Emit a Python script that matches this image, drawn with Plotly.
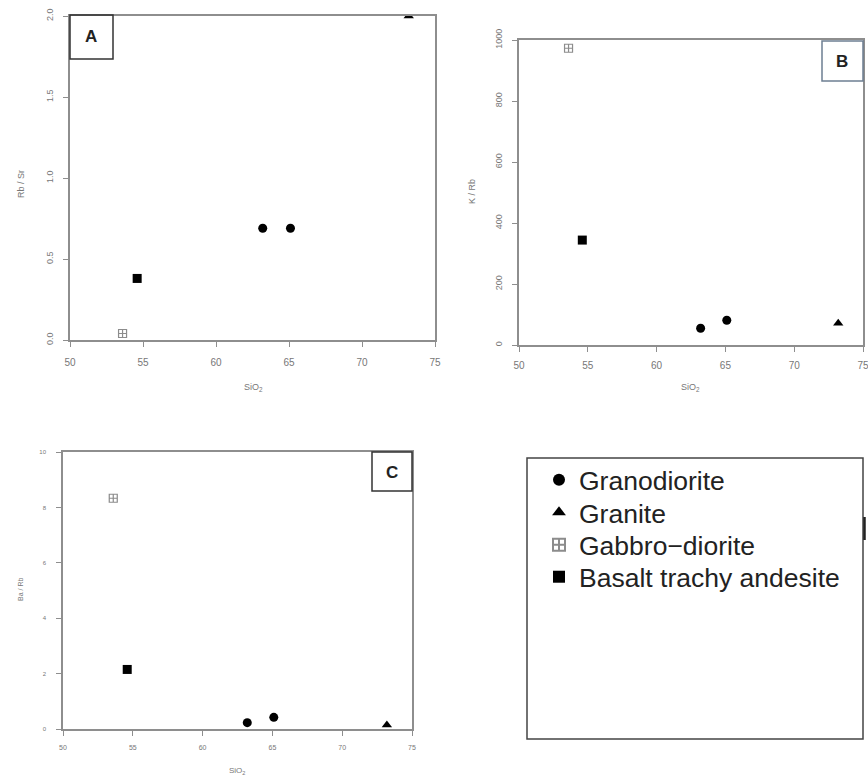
import plotly.graph_objects as go

# SiO2 (wt%) per rock group
sio2_granodiorite = [63.2, 65.1]
sio2_granite = [73.2]
sio2_gabbro = [53.6]
sio2_basalt = [54.6]

# Rb/Sr ratios
rbsr_granodiorite = [0.69, 0.69]
rbsr_granite = [2.0]
rbsr_gabbro = [0.04]
rbsr_basalt = [0.38]

# K/Rb ratios
krb_granodiorite = [55, 81]
krb_granite = [71]
krb_gabbro = [973]
krb_basalt = [344]

# Ba/Rb ratios
barb_granodiorite = [0.23, 0.42]
barb_granite = [0.14]
barb_gabbro = [8.33]
barb_basalt = [2.15]

group_names = ["Granodiorite", "Granite", "Gabbro\u2212diorite", "Basalt trachy andesite"]
x_ticks = [50, 55, 60, 65, 70, 75]

W, H = 868, 779


def px_x(p):
    return p / W


def px_y(p):
    return 1 - p / H


groups = [
    (group_names[0], sio2_granodiorite, rbsr_granodiorite, krb_granodiorite, barb_granodiorite,
     dict(symbol="circle", color="black", size=9)),
    (group_names[1], sio2_granite, rbsr_granite, krb_granite, barb_granite,
     dict(symbol="triangle-up", color="black", size=9)),
    (group_names[2], sio2_gabbro, rbsr_gabbro, krb_gabbro, barb_gabbro,
     dict(symbol="square-cross-open", color="#8c8c8c", size=8, line=dict(width=1.2))),
    (group_names[3], sio2_basalt, rbsr_basalt, krb_basalt, barb_basalt,
     dict(symbol="square", color="black", size=9)),
]

# one legend box per entry so each row sits at its own height
legend_ids = ["legend", "legend2", "legend3", "legend4"]
legend_rows = [480, 512.5, 545, 577]

fig = go.Figure()

panels = [("x", "y"), ("x2", "y2"), ("x3", "y3")]
for (name, sx, a, b, c, mk), lg in zip(groups, legend_ids):
    for (xa, ya), vals in zip(panels, (a, b, c)):
        fig.add_trace(go.Scatter(
            x=sx, y=vals, mode="markers", name=name, legend=lg,
            showlegend=(xa == "x"), marker=mk, xaxis=xa, yaxis=ya,
            cliponaxis=True,
        ))

axis_gray = "#8e8e8e"
text_gray = "#777777"

common_x = dict(range=[50, 75], tickvals=x_ticks, ticks="outside", ticklen=5,
                tickcolor=axis_gray, showline=True, linecolor=axis_gray, linewidth=1.5,
                mirror=True, showgrid=False, zeroline=False, automargin=False,
                ticklabeloverflow="allow",
                tickfont=dict(family="Liberation Sans", size=10, color=text_gray))
common_y = dict(ticks="outside", ticklen=5, tickcolor=axis_gray, showline=True,
                linecolor=axis_gray, linewidth=1.5, mirror=True, showgrid=False,
                zeroline=False, tickangle=-90, automargin=False, ticklabelstandoff=7,
                ticklabeloverflow="allow",
                tickfont=dict(family="Liberation Sans", size=9, color=text_gray))

legend_style = dict(xanchor="left", yanchor="middle", bgcolor="rgba(0,0,0,0)",
                    borderwidth=0, itemsizing="constant",
                    font=dict(family="Liberation Sans", size=26.5, color="#222222"))
legend_layout = {lg: dict(legend_style, x=px_x(539), y=px_y(row))
                 for lg, row in zip(legend_ids, legend_rows)}

fig.update_layout(
    width=W, height=H, margin=dict(l=0, r=0, t=0, b=0, autoexpand=False),
    paper_bgcolor="white", plot_bgcolor="white",
    xaxis=dict(common_x, domain=[px_x(70), px_x(435)], anchor="y", ticklabelstandoff=7),
    yaxis=dict(common_y, domain=[px_y(340), px_y(16)], anchor="x", range=[0, 2],
               tickvals=[0, 0.5, 1.0, 1.5, 2.0], ticktext=["0.0", "0.5", "1.0", "1.5", "2.0"]),
    xaxis2=dict(common_x, domain=[px_x(519), px_x(863)], anchor="y2", ticklabelstandoff=5),
    yaxis2=dict(common_y, domain=[px_y(345), px_y(40)], anchor="x2", range=[0, 1000],
                tickvals=[0, 200, 400, 600, 800, 1000]),
    xaxis3=dict(common_x, domain=[px_x(63), px_x(412)], anchor="y3", ticklabelstandoff=6,
                tickfont=dict(family="Liberation Sans", size=7, color=text_gray)),
    yaxis3=dict(common_y, domain=[px_y(729), px_y(452)], anchor="x3", range=[0, 10],
                tickvals=[0, 2, 4, 6, 8, 10], tickangle=0, ticklabelstandoff=9,
                tickfont=dict(family="Liberation Sans", size=6, color=text_gray)),
    showlegend=True,
    **legend_layout,
)

annotations = [
    # axis titles
    dict(x=px_x(21), y=px_y(184), text="Rb / Sr", textangle=-90, size=9),
    dict(x=px_x(472), y=px_y(192), text="K / Rb", textangle=-90, size=9),
    dict(x=px_x(20), y=px_y(590), text="Ba / Rb", textangle=-90, size=7),
    dict(x=px_x(253), y=px_y(387), text="SiO<sub>2</sub>", textangle=0, size=9),
    dict(x=px_x(690), y=px_y(387), text="SiO<sub>2</sub>", textangle=0, size=9),
    dict(x=px_x(237), y=px_y(771), text="SiO<sub>2</sub>", textangle=0, size=8),
]
for a in annotations:
    fig.add_annotation(x=a["x"], y=a["y"], text=a["text"], textangle=a["textangle"],
                       xref="paper", yref="paper", showarrow=False,
                       xanchor="center", yanchor="middle",
                       font=dict(family="Liberation Sans", size=a["size"], color=text_gray))

# panel letters
for letter, cx, cy in [("A", 91, 37), ("B", 842, 61), ("C", 392, 472)]:
    fig.add_annotation(x=px_x(cx), y=px_y(cy), xref="paper", yref="paper", text=f"<b>{letter}</b>",
                       showarrow=False, xanchor="center", yanchor="middle",
                       font=dict(family="Liberation Sans", size=17, color="#222222"))

# panel letter boxes and the legend frame
boxes = [
    (70, 15, 113, 59, "#333333"),
    (822, 41, 863, 81, "#6d7f92"),
    (372, 452, 412, 491, "#333333"),
    (527, 458, 863, 739, "#444444"),
]
for x0, y0, x1, y1, col in boxes:
    fig.add_shape(type="rect", xref="paper", yref="paper",
                  x0=px_x(x0), y0=px_y(y1), x1=px_x(x1), y1=px_y(y0),
                  line=dict(color=col, width=1.5), fillcolor="rgba(0,0,0,0)")

fig.add_shape(type="line", xref="paper", yref="paper",
              x0=px_x(864.5), x1=px_x(864.5), y0=px_y(540), y1=px_y(517),
              line=dict(color="#222222", width=2.5))

fig.write_html("out.html")
